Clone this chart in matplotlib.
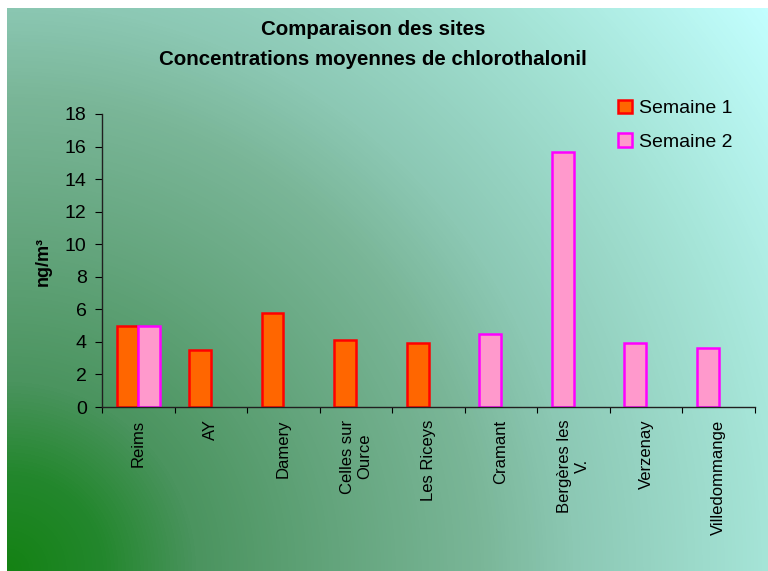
"""
Comparaison des sites : concentrations moyennes de chlorothalonil (ng/m3),
semaine 1 vs semaine 2, redrawn as a grouped bar chart on a green gradient.
"""
import numpy as np
import matplotlib
matplotlib.use('Agg')
import matplotlib.pyplot as plt
from matplotlib.colors import LinearSegmentedColormap

plt.rcParams['font.family'] = ['Liberation Sans', 'DejaVu Sans']

sites = ['Reims', 'AY', 'Damery', 'Celles sur\nOurce', 'Les Riceys', 'Cramant',
         'Bergères les\nV.', 'Verzenay', 'Villedommange']
semaine1 = [5.0, 3.5, 5.75, 4.1, 3.95, np.nan, np.nan, np.nan, np.nan]
semaine2 = [5.0, np.nan, np.nan, np.nan, np.nan, 4.5, 15.65, 3.95, 3.65]
series_names = ['Semaine 1', 'Semaine 2']
yticks = list(range(0, 19, 2))

W, H = 768, 571


def px(x, y):
    """pixel coords (top-left origin) -> figure fraction"""
    return x / W, 1 - y / H


def draw_background(fig):
    # radial-ish gradient, dark green in the bottom-left corner
    bg = fig.add_axes([7 / W, 0, (W - 7) / W, (H - 8) / H], zorder=-10)
    gw, gh = W - 7, H - 8
    xx, yy = np.meshgrid(np.arange(gw), np.arange(gh)[::-1])
    s = np.sqrt(xx ** 2 + yy ** 2) / np.sqrt(gw ** 2 + gh ** 2)
    stops = [(0.0, (20, 130, 20)), (0.1, (35, 135, 45)), (0.2, (75, 148, 95)),
             (0.35, (100, 165, 125)), (0.5, (122, 182, 152)), (0.6, (140, 200, 180)),
             (0.8, (165, 228, 215)), (1.0, (195, 255, 255))]
    cmap = LinearSegmentedColormap.from_list(
        'bg', [(p, tuple(c / 255 for c in col)) for p, col in stops])
    bg.imshow(s, cmap=cmap, vmin=0, vmax=1, aspect='auto', interpolation='bilinear')
    bg.axis('off')


def main():
    fig = plt.figure(figsize=(W / 100, H / 100), dpi=100)
    fig.patch.set_facecolor('white')
    draw_background(fig)

    left, top = px(102, 114)
    right, bottom = px(755, 407)
    ax = fig.add_axes([left, bottom, right - left, top - bottom])
    ax.patch.set_alpha(0)

    x = np.arange(len(sites))
    w = 0.3
    s1 = np.array(semaine1)
    s2 = np.array(semaine2)
    # when both weeks exist they sit side by side, otherwise the single bar is on the left slot
    x1 = x - w / 2
    x2 = np.where(np.isnan(s1), x - w / 2, x + w / 2)
    m1 = ~np.isnan(s1)
    m2 = ~np.isnan(s2)
    ax.bar(x1[m1], s1[m1], w, color='#FF6600', edgecolor='#FF0000', linewidth=1.8,
           label=series_names[0])
    ax.bar(x2[m2], s2[m2], w, color='#FF99CC', edgecolor='#FF00FF', linewidth=1.8,
           label=series_names[1])

    ax.set_xlim(-0.5, len(sites) - 0.5)
    ax.set_ylim(0, 18)
    ax.set_yticks(yticks)
    ax.tick_params(axis='y', labelsize=14, length=5, pad=6, direction='out')

    ax.set_xticks(np.arange(len(sites) + 1) - 0.5)
    ax.set_xticklabels([])
    ax.set_xticks(x, minor=True)
    ax.set_xticklabels(sites, minor=True, rotation=90, fontsize=12, va='top',
                       multialignment='center')
    ax.tick_params(axis='x', which='major', length=4.5, direction='out')
    ax.tick_params(axis='x', which='minor', length=0, pad=9)

    for side in ['top', 'right']:
        ax.spines[side].set_visible(False)
    for side in ['left', 'bottom']:
        ax.spines[side].set_color('#202020')
        ax.spines[side].set_linewidth(1)

    fig.text(*px(43, 262), 'ng/m³', rotation=90, fontsize=13, fontweight='bold',
             ha='center', va='center')

    fig.text(*px(373, 20), 'Comparaison des sites', fontsize=14.8, fontweight='bold',
             ha='center', va='top')
    fig.text(*px(373, 50), 'Concentrations moyennes de chlorothalonil', fontsize=14.8,
             fontweight='bold', ha='center', va='top')

    ax.legend(loc='upper left', bbox_to_anchor=px(618, 99.5), bbox_transform=fig.transFigure,
              frameon=False, fontsize=14, handlelength=0.72, handleheight=0.72,
              handletextpad=0.35, labelspacing=0.8, borderpad=0, borderaxespad=0)

    fig.savefig('out.png', dpi=100)


if __name__ == '__main__':
    main()
